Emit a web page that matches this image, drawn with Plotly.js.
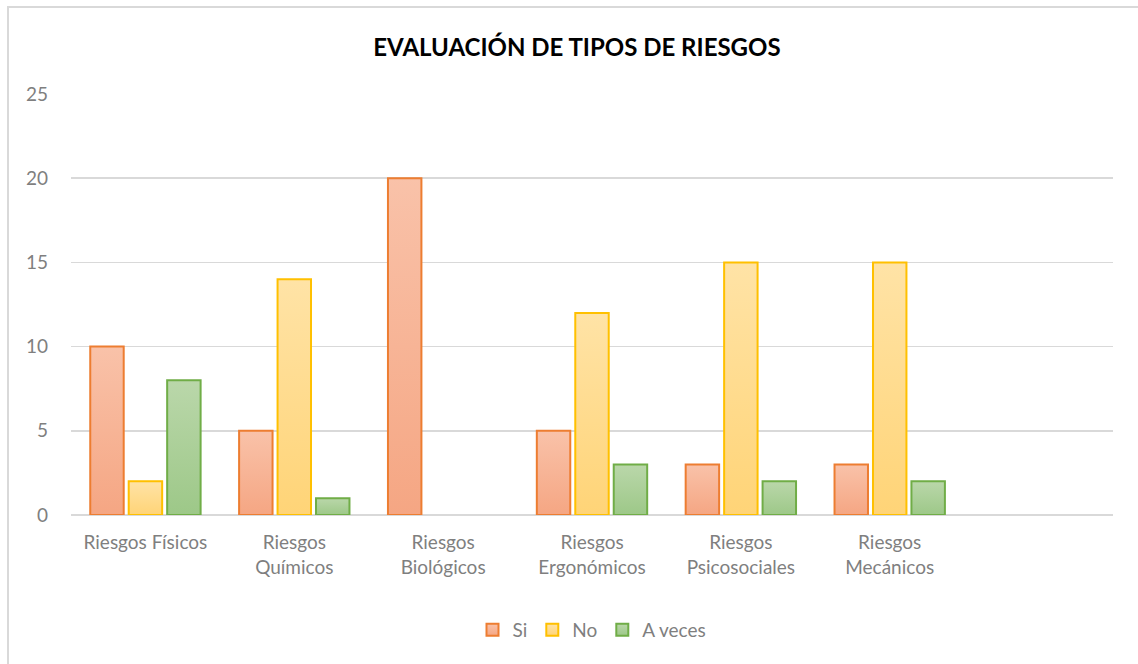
<!DOCTYPE html>
<html>
<head>
<meta charset="utf-8">
<script src="https://cdn.plot.ly/plotly-3.0.1.min.js"></script>
<style>
html,body{margin:0;padding:0;background:#fff;overflow:hidden;}
#frame{position:absolute;left:7px;top:6px;width:1200px;height:700px;border-left:2px solid #d9d9d9;border-top:2px solid #d9d9d9;box-sizing:border-box;pointer-events:none;z-index:5;}
#chart{position:absolute;left:0;top:0;width:1138px;height:664px;}
</style>
</head>
<body>
<div id="chart"></div>
<div id="frame"></div>
<script>
var categories = ["Riesgos Físicos", "Riesgos Químicos", "Riesgos Biológicos", "Riesgos Ergonómicos", "Riesgos Psicosociales", "Riesgos Mecánicos"];
var tickLabels = ["Riesgos Físicos", "Riesgos<br>Químicos", "Riesgos<br>Biológicos", "Riesgos<br>Ergonómicos", "Riesgos<br>Psicosociales", "Riesgos<br>Mecánicos"];
var siValues = [10, 5, 20, 5, 3, 3];
var noValues = [2, 14, 0, 12, 15, 15];
var aVecesValues = [8, 1, 0, 3, 2, 2];
var seriesNames = ["Si", "No", "A veces"];

var fills = ["#f7b596", "#ffdb8c", "#add096"];
var lines = ["#ed7d31", "#ffc000", "#70ad47"];
var grads = [["#f9c2a9", "#f5a683"], ["#ffe3a6", "#ffd477"], ["#bad7aa", "#9dc888"]];
var seriesValues = [siValues, noValues, aVecesValues];

var traces = seriesValues.map(function (vals, i) {
  return {
    type: "bar",
    name: seriesNames[i],
    x: categories,
    y: vals,
    marker: {
      color: fills[i],
      line: { color: lines[i], width: vals.map(function (v) { return v === 0 ? 0 : 2; }) }
    },
    hoverinfo: "x+y+name"
  };
});

var font = "Lato, 'Open Sans', sans-serif";
var layout = {
  width: 1138,
  height: 664,
  paper_bgcolor: "#fff",
  plot_bgcolor: "#fff",
  margin: { l: 71, r: 25, t: 94, b: 149 },
  title: {
    text: "<b>EVALUACIÓN DE TIPOS DE RIESGOS</b>",
    font: { family: font, size: 24, color: "#000" },
    x: 0.507, xanchor: "center",
    y: 0.929, yanchor: "middle"
  },
  barmode: "group",
  bargap: 0.225,
  bargroupgap: 0.13,
  xaxis: {
    type: "category",
    range: [-0.5, 6.5],
    tickvals: categories,
    ticktext: tickLabels,
    showgrid: false,
    zeroline: false,
    showline: false,
    ticks: "",
    ticklabelstandoff: 14,
    tickfont: { family: font, size: 19, color: "#7f7f7f" },
    fixedrange: true
  },
  yaxis: {
    range: [0, 25],
    dtick: 5,
    tick0: 0,
    showgrid: true,
    gridcolor: "#d9d9d9",
    gridwidth: 1.5,
    zeroline: true,
    zerolinecolor: "#d9d9d9",
    zerolinewidth: 1.5,
    showline: false,
    ticks: "",
    ticklabelstandoff: 22,
    tickfont: { family: font, size: 19, color: "#7f7f7f" },
    fixedrange: true
  },
  legend: {
    orientation: "h",
    x: 0.5, xanchor: "center",
    y: -0.273, yanchor: "middle",
    font: { family: font, size: 19, color: "#7f7f7f" },
    itemwidth: 30,
    traceorder: "normal"
  },
  showlegend: true
};

function applyGradients(gd) {
  var svg = gd.querySelector("svg.main-svg");
  if (!svg) return;
  var ns = "http://www.w3.org/2000/svg";
  var defs = svg.querySelector("defs");
  if (!defs) { defs = document.createElementNS(ns, "defs"); svg.insertBefore(defs, svg.firstChild); }
  grads.forEach(function (g, i) {
    if (document.getElementById("bargrad" + i)) return;
    var lg = document.createElementNS(ns, "linearGradient");
    lg.setAttribute("id", "bargrad" + i);
    lg.setAttribute("x1", "0"); lg.setAttribute("y1", "0");
    lg.setAttribute("x2", "0"); lg.setAttribute("y2", "1");
    [[0, g[0]], [1, g[1]]].forEach(function (s) {
      var st = document.createElementNS(ns, "stop");
      st.setAttribute("offset", s[0]);
      st.setAttribute("stop-color", s[1]);
      lg.appendChild(st);
    });
    defs.appendChild(lg);
  });
  var barTraces = gd.querySelectorAll(".barlayer .trace");
  barTraces.forEach(function (t, i) {
    t.querySelectorAll("path").forEach(function (p) {
      p.style.fill = "url(#bargrad" + i + ")";
    });
  });
  var legendTraces = gd.querySelectorAll(".legend .traces");
  legendTraces.forEach(function (t, i) {
    t.querySelectorAll(".legendpoints path").forEach(function (p) {
      p.style.fill = "url(#bargrad" + i + ")";
    });
  });
}

Plotly.newPlot("chart", traces, layout, { displayModeBar: false, staticPlot: true }).then(function (gd) {
  applyGradients(gd);
});
</script>
</body>
</html>
